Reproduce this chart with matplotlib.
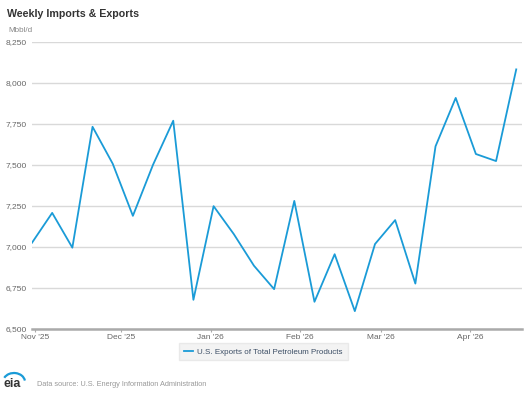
import numpy as np
import pandas as pd
import matplotlib
matplotlib.use("Agg")
import matplotlib.pyplot as plt
import matplotlib.dates as mdates
from matplotlib.patches import Arc

plt.rcParams['font.family'] = ['Liberation Sans', 'DejaVu Sans']

# weekly U.S. exports of total petroleum products, Mbbl/d
week_end = pd.date_range("2025-10-31", periods=25, freq="7D")
exports = [7026, 7208, 6996, 7733, 7508, 7190, 7502, 7770, 6678, 7249,
           7079, 6886, 6743, 7281, 6666, 6956, 6609, 7018, 7164, 6777,
           7614, 7909, 7567, 7524, 8083]
y_ticks = [6500, 6750, 7000, 7250, 7500, 7750, 8000, 8250]
month_ticks = pd.to_datetime(["2025-11-01", "2025-12-01", "2026-01-01",
                              "2026-02-01", "2026-03-01", "2026-04-01"])
month_labels = ["Nov '25", "Dec '25", "Jan '26", "Feb '26", "Mar '26", "Apr '26"]

blue = "#1a9bd7"
grey_txt = "#666666"

fig = plt.figure(figsize=(5.28, 3.96), dpi=100)
ax = fig.add_axes([32/528, 1-329/396, 490/528, 287/396])

ax.plot(week_end, exports, color=blue, lw=1.3, label="U.S. Exports of Total Petroleum Products")
ax.set_ylim(6500, 8250)
ax.set_xlim(pd.Timestamp("2025-10-31"), pd.Timestamp("2026-04-19"))
ax.set_yticks(y_ticks)
ax.set_yticklabels([f"{v:,}" for v in y_ticks])
ax.set_xticks(month_ticks)
ax.set_xticklabels(month_labels)

ax.grid(axis="y", color="#d9d9d9", lw=1)
ax.set_axisbelow(True)
for s in ["top", "right", "left"]:
    ax.spines[s].set_visible(False)
ax.spines["bottom"].set_color("#aaaaaa")
ax.spines["bottom"].set_linewidth(1.8)
ax.tick_params(axis="y", length=0, labelsize=6, labelcolor=grey_txt, pad=4)
ax.tick_params(axis="x", length=2.5, color="#aaaaaa", labelsize=6,
               labelcolor=grey_txt, pad=1.2)

fig.text(7/528, 1-14/396, "Weekly Imports & Exports", fontsize=7.7,
         fontweight="bold", color="#333333", va="center")
fig.text(8/528, 1-31/396, "Mbbl/d", fontsize=5.8, color="#888888",
         va="center")

leg = ax.legend(loc="upper center", bbox_to_anchor=(0.472, -0.035), frameon=True,
                fontsize=5.8, handlelength=1.2, borderpad=0.6, handletextpad=0.5)
leg.get_frame().set_facecolor("#f0f0f0")
leg.get_frame().set_edgecolor("#e6e6e6")
leg.get_frame().set_boxstyle("square", pad=0)
for t in leg.get_texts():
    t.set_color("#3d4f66")

# footer: eia mark and source
fig.text(4/528, 1-384/396, "eia", fontsize=9, fontweight="bold",
         color="#333333", va="center")
arc = Arc((14/528, 1-382/396), 22/528, 18/396, theta1=10, theta2=150,
          transform=fig.transFigure, color=blue, lw=1.6)
fig.add_artist(arc)
fig.text(37/528, 1-385/396, "Data source: U.S. Energy Information Administration",
         fontsize=5.3, color="#999999", va="center")

fig.savefig("out.png", dpi=100)
